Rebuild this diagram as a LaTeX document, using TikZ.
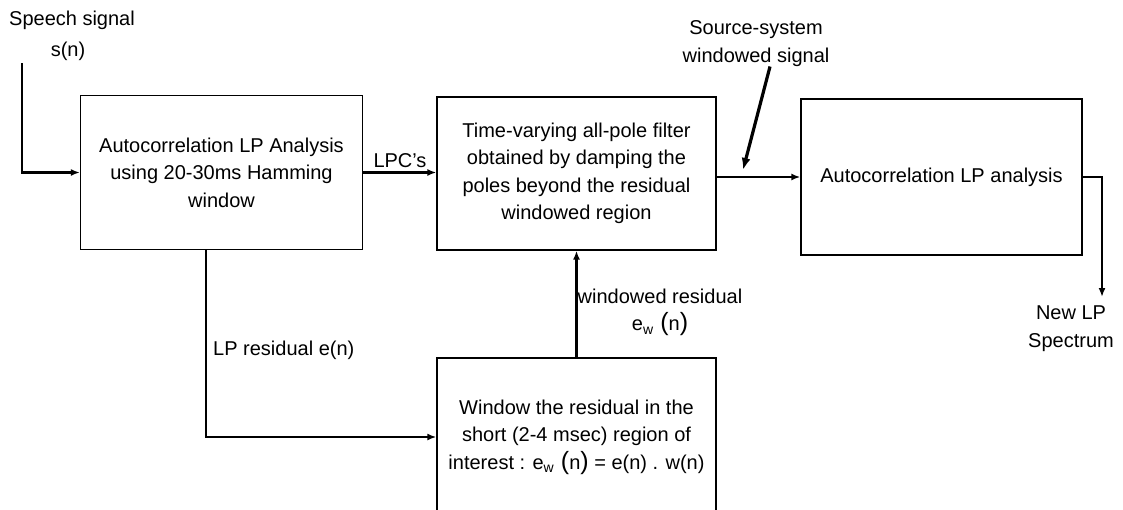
\documentclass[tikz,border=0pt]{standalone}
\usepackage{fontspec}
\setmainfont{Liberation Sans}
\usetikzlibrary{arrows.meta}
\newcommand\bigpar[1]{{\fontsize{25}{25}\selectfont #1}}
\newcommand\ewn{e\textsubscript{w}\,\,\bigpar{(}n\bigpar{)}}
\begin{document}
\begin{tikzpicture}[x=1pt,y=-1pt,
  txt/.style={font=\fontsize{20}{27.5}\selectfont},
  box/.style={txt, draw, line width=1.3pt, align=center, inner sep=0pt},
  lbl/.style={txt, align=center, inner sep=0pt},
  arr/.style={line width=2.2pt, -{Latex[length=9pt,width=7pt]}},
  bigarr/.style={line width=3.2pt, -{Latex[length=12pt,width=9pt]}},
 ]
\useasboundingbox (0,0) rectangle (1123,509);
\clip (0,0) rectangle (1123,509);

% boxes
\node[box, minimum width=282pt, minimum height=154pt] (A) at (221.5,172.5)
  {Autocorrelation LP Analysis\\using 20-30ms Hamming\\window};
\node[box, minimum width=279pt, minimum height=153pt] (B) at (576.5,173.5)
  {Time-varying all-pole filter\\obtained by damping the\\poles beyond the residual\\windowed region};
\node[box, minimum width=281pt, minimum height=156pt] (C) at (941.5,177)
  {Autocorrelation LP analysis};
\node[box, minimum width=279pt, minimum height=158pt] (D) at (576.5,437)
  {Window the residual in the\\short (2-4 msec) region of\\interest : \ewn{} = e(n) . w(n)};

% labels
\node[lbl] (sp) at (72,36) {Speech signal\\[4pt]\hspace*{-8pt}s(n)};
\node[lbl] (lpc) at (400,161) {LPC's};
\node[lbl] (ss) at (756,43.5) {Source-system\\windowed signal};
\node[lbl] (nlp) at (1071,328.5) {New LP\\Spectrum};
\node[lbl, anchor=west] (lpr) at (213,350) {LP residual e(n)};
\node[lbl] (wr) at (660,312.5) {windowed residual\\\ewn};

% coordinates
\coordinate (in) at (22,63);
\coordinate (out) at (1102,297);
\coordinate (sstip) at (743,170);

% connectors
\draw[arr] (in) |- (A.west);
\draw[arr] (A.east) -- (A.east -| B.west);
\draw[arr] (C.west -| B.east) -- (C.west);
\draw[bigarr] ([xshift=14pt]ss.south) -- (sstip);
\draw[arr] (C.east) -| (out);
\draw[arr] ([xshift=-15.5pt]A.south) |- (D.west);
\draw[arr] (D.north) -- (B.south);
\end{tikzpicture}
\end{document}
